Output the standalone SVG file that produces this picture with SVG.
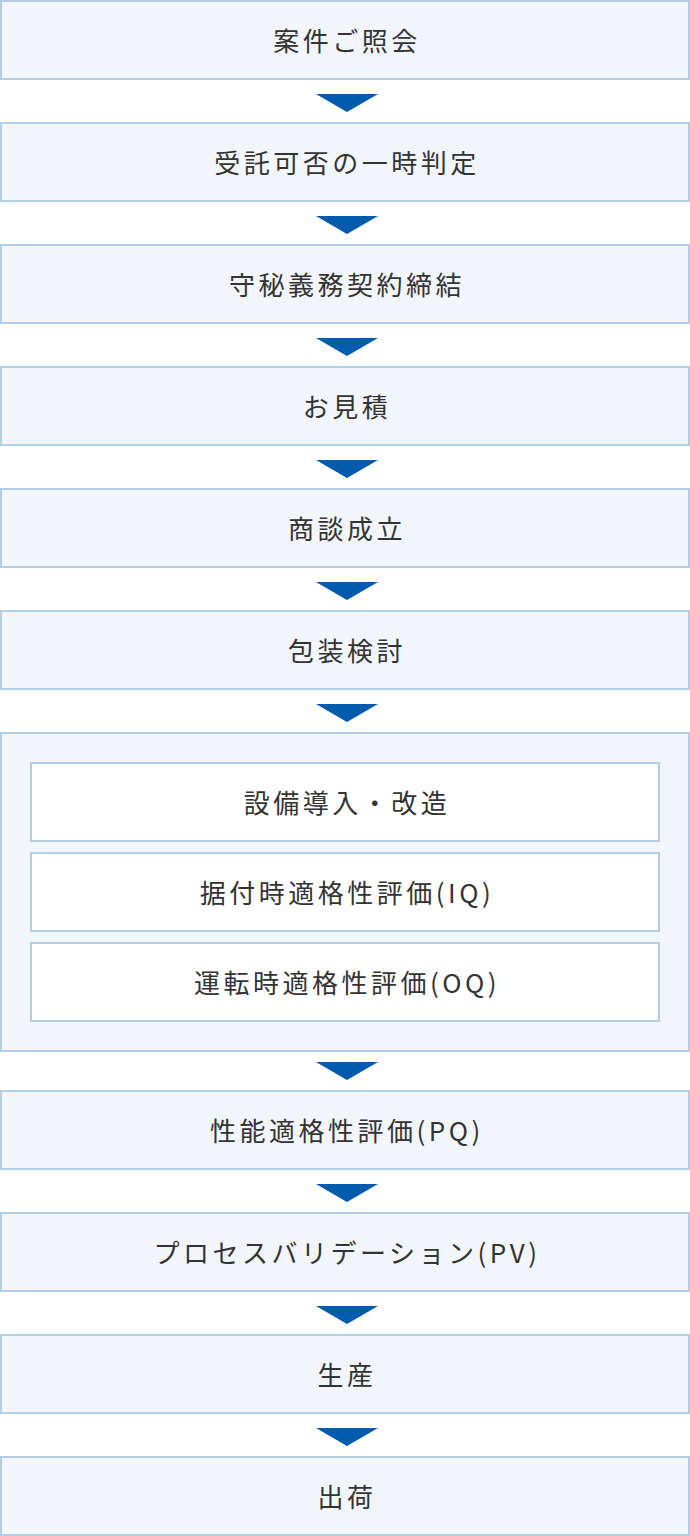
<svg xmlns="http://www.w3.org/2000/svg" width="690" height="1536" viewBox="0 0 690 1536">
<style>
.box{fill:#f2f6fb;stroke:#b3cde7;stroke-width:2}
.inner{fill:#ffffff;stroke:#b3cde7;stroke-width:2}
.lbl{font-family:"Noto Sans CJK JP","Noto Sans",sans-serif;font-size:26px;fill:#333333;text-anchor:middle;letter-spacing:3.5px}
.arr{fill:#005bac}
</style>
<rect width="690" height="1536" fill="#ffffff"/>
<g id="n1"><rect class="box" x="1" y="1" width="688" height="78"/><text class="lbl" x="347" y="51">案件ご照会</text></g>
<g id="n2"><rect class="box" x="1" y="123" width="688" height="78"/><text class="lbl" x="347" y="173">受託可否の一時判定</text></g>
<g id="n3"><rect class="box" x="1" y="245" width="688" height="78"/><text class="lbl" x="347" y="295">守秘義務契約締結</text></g>
<g id="n4"><rect class="box" x="1" y="367" width="688" height="78"/><text class="lbl" x="347" y="417">お見積</text></g>
<g id="n5"><rect class="box" x="1" y="489" width="688" height="78"/><text class="lbl" x="347" y="539">商談成立</text></g>
<g id="n6"><rect class="box" x="1" y="611" width="688" height="78"/><text class="lbl" x="347" y="661">包装検討</text></g>
<g id="n7">
<rect class="box" x="1" y="733" width="688" height="318"/>
<g id="n7a"><rect class="inner" x="31" y="763" width="628" height="78"/><text class="lbl" x="347" y="813">設備導入・改造</text></g>
<g id="n7b"><rect class="inner" x="31" y="853" width="628" height="78"/><text class="lbl" x="347" y="903">据付時適格性評価(IQ)</text></g>
<g id="n7c"><rect class="inner" x="31" y="943" width="628" height="78"/><text class="lbl" x="347" y="993">運転時適格性評価(OQ)</text></g>
</g>
<g id="n8"><rect class="box" x="1" y="1091" width="688" height="78"/><text class="lbl" x="347" y="1141">性能適格性評価(PQ)</text></g>
<g id="n9"><rect class="box" x="1" y="1213" width="688" height="78"/><text class="lbl" x="347" y="1263">プロセスバリデーション(PV)</text></g>
<g id="n10"><rect class="box" x="1" y="1335" width="688" height="78"/><text class="lbl" x="347" y="1385">生産</text></g>
<g id="n11"><rect class="box" x="1" y="1457" width="688" height="78"/><text class="lbl" x="347" y="1507">出荷</text></g>
<g id="connectors">
<polygon class="arr" points="316,94 378,94 347,112"/>
<polygon class="arr" points="316,216 378,216 347,234"/>
<polygon class="arr" points="316,338 378,338 347,356"/>
<polygon class="arr" points="316,460 378,460 347,478"/>
<polygon class="arr" points="316,582 378,582 347,600"/>
<polygon class="arr" points="316,704 378,704 347,722"/>
<polygon class="arr" points="316,1062 378,1062 347,1080"/>
<polygon class="arr" points="316,1184 378,1184 347,1202"/>
<polygon class="arr" points="316,1306 378,1306 347,1324"/>
<polygon class="arr" points="316,1428 378,1428 347,1446"/>
</g>
</svg>
